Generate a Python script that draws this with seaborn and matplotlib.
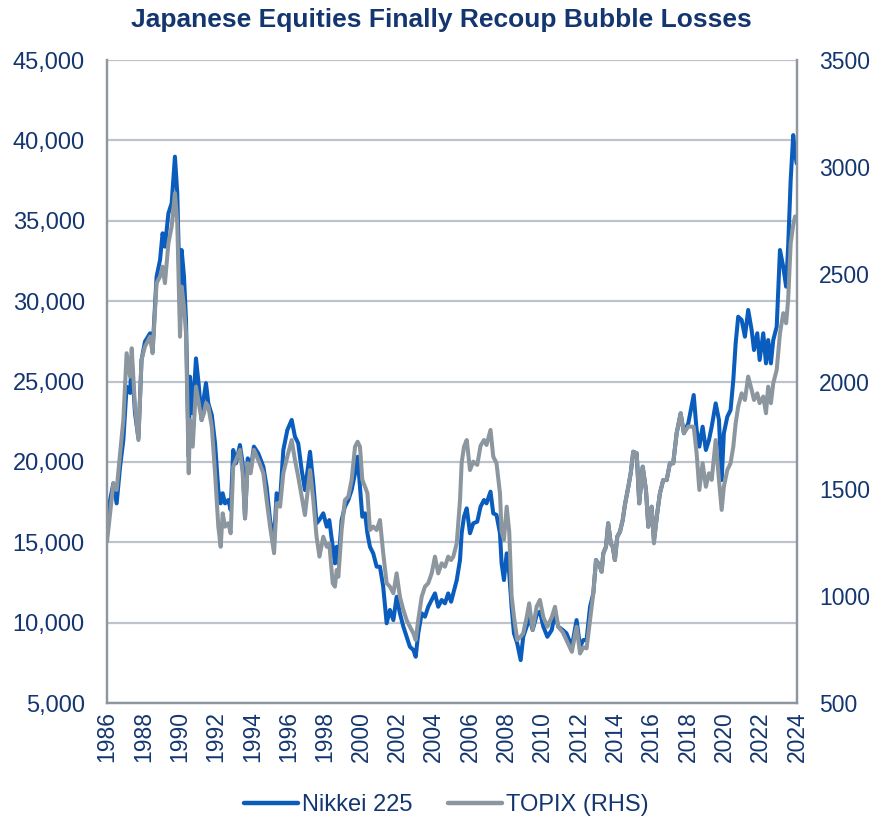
import matplotlib
matplotlib.use("Agg")
import matplotlib.pyplot as plt
from matplotlib.lines import Line2D
import seaborn as sns
import pandas as pd

# ---- data ----
years = [
    1986.00, 1986.17, 1986.35, 1986.53, 1986.72, 1986.90, 1987.08, 1987.27, 1987.36, 1987.54,
    1987.73, 1987.90, 1988.09, 1988.37, 1988.51, 1988.73, 1988.92, 1989.06, 1989.19, 1989.38,
    1989.56, 1989.74, 1989.87, 1990.02, 1990.11, 1990.24, 1990.35, 1990.50, 1990.57, 1990.72,
    1990.90, 1991.05, 1991.21, 1991.34, 1991.45, 1991.58, 1991.77, 1991.95, 1992.13, 1992.26,
    1992.37, 1992.50, 1992.68, 1992.81, 1992.95, 1993.10, 1993.32, 1993.47, 1993.60, 1993.75,
    1993.91, 1994.09, 1994.33, 1994.61, 1994.79, 1994.98, 1995.20, 1995.34, 1995.53, 1995.71,
    1995.93, 1996.17, 1996.35, 1996.53, 1996.72, 1996.90, 1997.18, 1997.36, 1997.54, 1997.70,
    1997.91, 1998.10, 1998.24, 1998.43, 1998.55, 1998.65, 1998.74, 1998.92, 1999.10, 1999.29,
    1999.47, 1999.66, 1999.80, 1999.93, 2000.06, 2000.21, 2000.34, 2000.48, 2000.66, 2000.85,
    2001.03, 2001.21, 2001.40, 2001.58, 2001.77, 2001.95, 2002.13, 2002.32, 2002.50, 2002.68,
    2002.87, 2003.00, 2003.14, 2003.33, 2003.51, 2003.69, 2003.88, 2004.06, 2004.24, 2004.43,
    2004.61, 2004.79, 2004.95, 2005.07, 2005.26, 2005.44, 2005.53, 2005.66, 2005.81, 2005.99,
    2006.17, 2006.39, 2006.57, 2006.76, 2006.90, 2007.12, 2007.27, 2007.45, 2007.64, 2007.73,
    2007.86, 2008.01, 2008.15, 2008.28, 2008.41, 2008.59, 2008.78, 2008.92, 2009.11, 2009.25,
    2009.44, 2009.66, 2009.84, 2010.03, 2010.25, 2010.49, 2010.67, 2010.85, 2011.10, 2011.30,
    2011.60, 2011.86, 2012.05, 2012.23, 2012.41, 2012.60, 2012.78, 2012.93, 2013.11, 2013.24,
    2013.33, 2013.48, 2013.60, 2013.74, 2013.85, 2013.97, 2014.10, 2014.25, 2014.40, 2014.52,
    2014.71, 2014.84, 2014.98, 2015.17, 2015.31, 2015.50, 2015.68, 2015.81, 2015.99, 2016.12,
    2016.30, 2016.45, 2016.63, 2016.82, 2017.00, 2017.18, 2017.37, 2017.59, 2017.77, 2018.01,
    2018.31, 2018.47, 2018.62, 2018.80, 2018.98, 2019.15, 2019.30, 2019.52, 2019.70, 2019.85,
    2019.97, 2020.16, 2020.34, 2020.49, 2020.62, 2020.76, 2020.95, 2021.13, 2021.31, 2021.50,
    2021.63, 2021.81, 2021.94, 2022.14, 2022.29, 2022.41, 2022.56, 2022.69, 2022.88, 2023.06,
    2023.24, 2023.40, 2023.51, 2023.65, 2023.79, 2023.89, 2023.98,
]

nikkei = [
    15870, 17630, 18670, 17420, 19700, 21360, 24680, 24290, 26340, 23040,
    21470, 26340, 27480, 28000, 26960, 31520, 32560, 34220, 33390, 35460,
    36090, 38990, 36710, 29650, 33180, 31520, 28830, 20320, 25300, 23020,
    26440, 24800, 22610, 24060, 24900, 23640, 22920, 21160, 18250, 17420,
    18050, 17420, 17630, 17010, 20740, 19910, 21050, 19910, 16490, 20220,
    19500, 20950, 20530, 19700, 18460, 16380, 15100, 18050, 17630, 20740,
    21980, 22610, 21570, 21160, 19500, 18250, 20630, 18670, 16180, 16400,
    16800, 15970, 16380, 14720, 13690, 14720, 13690, 16380, 17210, 17630,
    18250, 19290, 20320, 18460, 16590, 16800, 15560, 14720, 14310, 13480,
    13480, 12240, 9960, 10790, 10160, 11610, 10580, 9750, 9120, 8500,
    8300, 7880, 9340, 10580, 10370, 10990, 11410, 11820, 10990, 11410,
    11200, 11820, 11300, 11820, 12650, 13900, 15560, 16590, 17110, 15560,
    16180, 16280, 17210, 17630, 17420, 18150, 16800, 16700, 15560, 13690,
    12650, 14310, 13070, 10990, 9340, 8710, 7670, 9120, 9750, 10370,
    9540, 10470, 10680, 9750, 9120, 9540, 10580, 9750, 9540, 9340,
    8500, 10160, 8500, 8920, 8920, 10990, 11820, 13900, 13590, 13170,
    14310, 14720, 16180, 14930, 14720, 13900, 15350, 15660, 16380, 17320,
    18460, 19290, 20630, 20530, 17420, 19700, 18250, 15970, 17210, 15140,
    16800, 18050, 18870, 18870, 19910, 19910, 21780, 23020, 21780, 22400,
    24160, 21980, 20950, 22190, 20740, 21360, 22190, 23640, 22610, 18870,
    21780, 22810, 23230, 25100, 27380, 29030, 28830, 27790, 29450, 28200,
    26960, 28000, 26340, 28000, 26130, 27580, 26130, 27580, 28410, 33180,
    32140, 30900, 33390, 37540, 40330, 39200, 38570,
]

topix = [
    1253, 1385, 1525, 1494, 1665, 1821, 2132, 2023, 2155, 1883,
    1727, 2101, 2163, 2209, 2132, 2459, 2490, 2536, 2459, 2645,
    2723, 2879, 2739, 2209, 2443, 2349, 2225, 1572, 1821, 1696,
    1976, 1900, 1821, 1852, 1900, 1883, 1789, 1572, 1323, 1229,
    1385, 1323, 1339, 1292, 1603, 1634, 1681, 1572, 1361, 1619,
    1572, 1681, 1634, 1572, 1447, 1323, 1199, 1432, 1416, 1572,
    1650, 1727, 1634, 1556, 1463, 1377, 1587, 1447, 1276, 1183,
    1276, 1229, 1245, 1059, 1043, 1121, 1089, 1307, 1447, 1463,
    1541, 1696, 1719, 1696, 1541, 1509, 1479, 1307, 1323, 1307,
    1354, 1199, 1059, 1043, 1012, 1105, 996, 934, 887, 856,
    825, 794, 887, 996, 1043, 1059, 1105, 1183, 1105, 1152,
    1136, 1183, 1167, 1183, 1245, 1447, 1620, 1696, 1727, 1587,
    1626, 1611, 1700, 1727, 1704, 1774, 1650, 1619, 1479, 1300,
    1261, 1416, 1300, 1000, 903, 794, 810, 825, 900, 965,
    841, 950, 981, 900, 856, 900, 949, 856, 830, 794,
    739, 856, 731, 760, 755, 887, 1012, 1167, 1144, 1113,
    1199, 1229, 1339, 1245, 1229, 1167, 1276, 1299, 1354, 1424,
    1509, 1572, 1673, 1665, 1432, 1603, 1494, 1323, 1416, 1245,
    1385, 1479, 1541, 1541, 1619, 1619, 1759, 1852, 1759, 1790,
    1789, 1665, 1494, 1619, 1509, 1572, 1541, 1727, 1541, 1401,
    1509, 1587, 1619, 1696, 1805, 1883, 1945, 1914, 2023, 1961,
    1914, 1945, 1899, 1930, 1852, 1976, 1899, 1992, 2054, 2225,
    2319, 2272, 2381, 2645, 2731, 2770, 2770,
]

x_ticks = list(range(1986, 2025, 2))
left_ticks = [5000, 10000, 15000, 20000, 25000, 30000, 35000, 40000, 45000]
right_ticks = [500, 1000, 1500, 2000, 2500, 3000, 3500]

title = "Japanese Equities Finally Recoup Bubble Losses"
series_names = ["Nikkei 225", "TOPIX (RHS)"]

# ---- styling ----
sns.set_style("white")
plt.rcParams["font.family"] = ["Liberation Sans", "DejaVu Sans"]

BLUE = "#0A5CBD"
GREY = "#8C969F"
NAVY = "#143670"
GRID = "#BEC3C9"
SPINE = "#8E979F"

df = pd.DataFrame({"year": years, "nikkei": nikkei, "topix": topix})

fig = plt.figure(figsize=(8.75, 8.21), dpi=100)
ax = fig.add_axes([0.1223, 0.1437, 0.9109 - 0.1223, 0.9269 - 0.1437])
ax2 = ax.twinx()

sns.lineplot(data=df, x="year", y="nikkei", ax=ax, color=BLUE, linewidth=2.9)
sns.lineplot(data=df, x="year", y="topix", ax=ax2, color=GREY, linewidth=2.9)

ax.set_xlim(1986, 2024)
ax.set_ylim(5000, 45000)
ax2.set_ylim(500, 3500)

ax.set_xticks(x_ticks)
ax.set_xticklabels([str(t) for t in x_ticks], rotation=90, fontsize=16.5, color=NAVY)
ax.set_yticks(left_ticks)
ax.set_yticklabels([f"{t:,}" for t in left_ticks], fontsize=17, color=NAVY)
ax2.set_yticks(right_ticks)
ax2.set_yticklabels([str(t) for t in right_ticks], fontsize=16.5, color=NAVY)

ax.set_xlabel("")
ax.set_ylabel("")
ax2.set_ylabel("")

ax.tick_params(axis="y", length=0, pad=16)
ax.tick_params(axis="x", length=0, pad=6)
ax2.tick_params(axis="y", length=0, pad=16)

ax.yaxis.grid(True, color=GRID, linewidth=1.6)
ax.xaxis.grid(False)
ax2.grid(False)
ax.set_axisbelow(True)

for a in (ax, ax2):
    a.spines["top"].set_visible(False)
    for s in ("left", "right", "bottom"):
        a.spines[s].set_color(SPINE)
        a.spines[s].set_linewidth(1.6)

fig.text(0.504, 0.976, title, ha="center", va="center", fontsize=19,
         fontweight="bold", color=NAVY)

handles = [Line2D([0], [0], color=BLUE, linewidth=3.2),
           Line2D([0], [0], color=GREY, linewidth=3.2)]
fig.legend(handles, series_names, loc="center", bbox_to_anchor=(0.51, 0.019),
           ncol=2, frameon=False, fontsize=17, handlelength=2.3,
           handletextpad=0.15, columnspacing=1.5, labelcolor=NAVY)

fig.savefig("out.png", dpi=100)
